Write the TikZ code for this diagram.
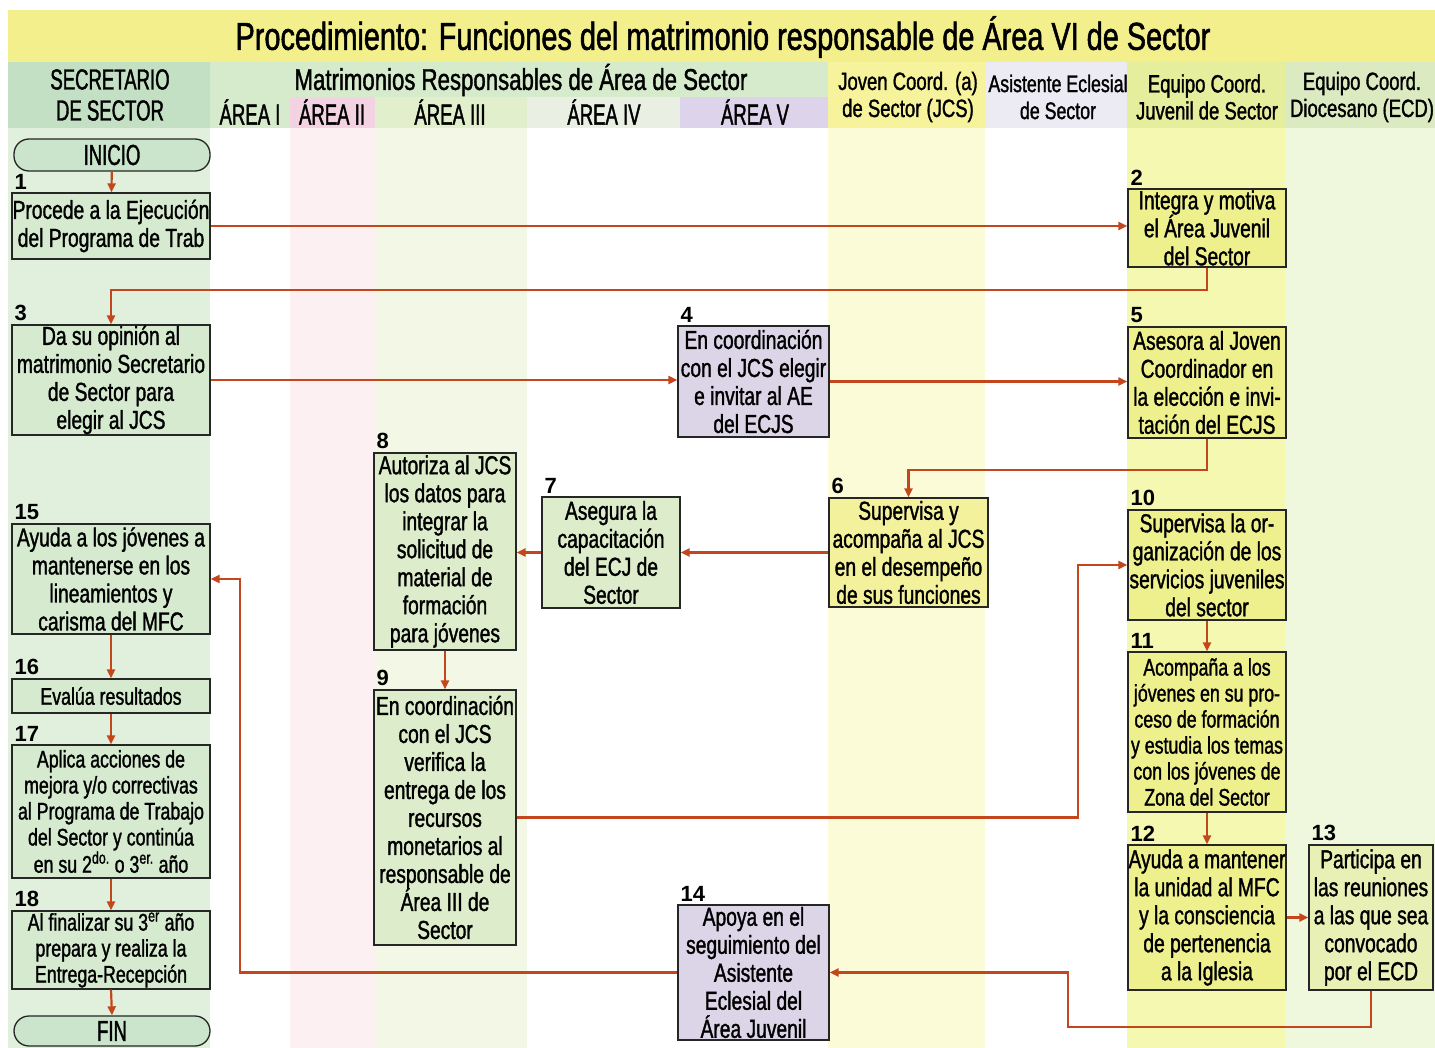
\documentclass[tikz,border=0pt]{standalone}
\usepackage{fontspec}
\setmainfont{Liberation Sans}
\newfontfamily\cond{Liberation Sans}[FakeStretch=0.74,FakeBold=1.3]
\newfontfamily\xcond{Liberation Sans}[FakeStretch=0.64,FakeBold=1.3]
\newfontfamily\numfam{Liberation Sans Bold}
\usetikzlibrary{arrows.meta}
\definecolor{ln}{HTML}{C4461C}
\definecolor{titlebg}{HTML}{F2EF8C}
\definecolor{hsec}{HTML}{C3E0C4}
\definecolor{hmat}{HTML}{D6EBCB}
\definecolor{hpink}{HTML}{F3D3E1}
\definecolor{hg3}{HTML}{E2EFCC}
\definecolor{hg4}{HTML}{E9EFE2}
\definecolor{hlav}{HTML}{DDD3EA}
\definecolor{hjcs}{HTML}{F6F39C}
\definecolor{hae}{HTML}{ECEBF4}
\definecolor{hecj}{HTML}{E5EE9C}
\definecolor{hecd}{HTML}{DCEAC2}
\definecolor{csec}{HTML}{E0F0DC}
\definecolor{cpink}{HTML}{FCF0F3}
\definecolor{cg3}{HTML}{F2F8E5}
\definecolor{cjcs}{HTML}{FBFBD8}
\definecolor{cecj}{HTML}{F4F8B0}
\definecolor{cecd}{HTML}{EFF7DC}
\definecolor{bgreen}{HTML}{D5EACF}
\definecolor{bgreen2}{HTML}{DDEDCB}
\definecolor{byel}{HTML}{EEF08E}
\definecolor{byel2}{HTML}{F4F19C}
\definecolor{blav}{HTML}{DCD5E8}
\definecolor{byg}{HTML}{E8F0B6}
\definecolor{termc}{HTML}{CAE5CC}
\newcommand\bodyf{\cond\fontsize{26}{28}\selectfont}
\newcommand\smallbf{\cond\fontsize{24}{26}\selectfont}
\newcommand\hdrf{\xcond\fontsize{29}{31}\selectfont}
\newcommand\subhf{\cond\fontsize{25}{27}\selectfont}
\newcommand\numf{\numfam\fontsize{22}{24}\selectfont}
\tikzset{
  box/.style={draw=black!85, line width=1.3pt, inner sep=0pt, align=center, font=\bodyf},
  num/.style={font=\numf, anchor=south west, inner sep=0pt},
  arr/.style={draw=ln, line width=2.2pt, -{Triangle[length=9pt,width=8pt]}},
  term/.style={draw=black!85, line width=1.3pt, rounded corners=15pt, fill=termc, inner sep=0pt, font=\hdrf},
  hdr/.style={inner sep=0pt, align=center, font=\hdrf},
  subh/.style={inner sep=0pt, align=center, font=\subhf},
}
\begin{document}
\begin{tikzpicture}[x=1pt,y=-1pt]
\useasboundingbox (0,0) rectangle (1435,1048);
\fill[white] (0,0) rectangle (1435,1048);
% title band
\fill[titlebg] (8,10) rectangle (1435,62);
\node[inner sep=0pt, font={\cond\fontsize{39}{41}\selectfont}] (title) at (723,37) {Procedimiento: Funciones del matrimonio responsable de Área VI de Sector};
% header band
\fill[hsec] (8,62) rectangle (210,128);
\fill[hmat] (210,62) rectangle (828,97);
\fill[hmat] (210,97) rectangle (290,128);
\fill[hpink] (290,97) rectangle (375,128);
\fill[hg3] (375,97) rectangle (527,128);
\fill[hg4] (527,97) rectangle (680,128);
\fill[hlav] (680,97) rectangle (828,128);
\fill[hjcs] (828,62) rectangle (985,128);
\fill[hae] (985,62) rectangle (1127,128);
\fill[hecj] (1127,62) rectangle (1285,128);
\fill[hecd] (1285,62) rectangle (1435,128);
% body columns
\fill[csec] (8,128) rectangle (210,1048);
\fill[cpink] (290,128) rectangle (375,1048);
\fill[cg3] (375,128) rectangle (527,1048);
\fill[cjcs] (828,128) rectangle (985,1048);
\fill[cecj] (1127,128) rectangle (1285,1048);
\fill[cecd] (1285,128) rectangle (1435,1048);
% header texts
\node[hdr] (h1) at (110,95) {SECRETARIO\\DE SECTOR};
\node[hdr, font={\cond\fontsize{30}{32}\selectfont}] (h2) at (521,80) {Matrimonios Responsables de Área de Sector};
\node[hdr] (a1) at (250,112) {ÁREA I};
\node[hdr] (a2) at (332,112) {ÁREA II};
\node[hdr] (a3) at (450,112) {ÁREA III};
\node[hdr] (a4) at (604,112) {ÁREA IV};
\node[hdr] (a5) at (755,112) {ÁREA V};
\node[subh] (h3) at (908,97) {Joven Coord. (a)\\de Sector (JCS)};
\node[subh, font={\cond\fontsize{24}{27}\selectfont}] (h4) at (1058,97) {Asistente Eclesial\\de Sector};
\node[subh] (h5) at (1207,97) {Equipo Coord.\\Juvenil de Sector};
\node[subh] (h6) at (1362,97) {Equipo Coord.\\Diocesano (ECD)};
% terminals
\node[term, minimum width=196, minimum height=32] (ini) at (112,155) {INICIO};
\node[term, minimum width=196, minimum height=30] (fin) at (112,1031) {FIN};
% boxes
\node[box, fill=bgreen, minimum width=198, minimum height=66] (n1) at (111,226) {Procede a la Ejecución\\del Programa de Trab};
\node[box, fill=byel, minimum width=158, minimum height=78] (n2) at (1207,228) {Integra y motiva\\el Área Juvenil\\del Sector};
\node[box, fill=bgreen, minimum width=198, minimum height=110] (n3) at (111,380) {Da su opinión al\\matrimonio Secretario\\de Sector para\\elegir al JCS};
\node[box, fill=blav, minimum width=151, minimum height=111] (n4) at (753.5,381.5) {En coordinación\\con el JCS elegir\\e invitar al AE\\del ECJS};
\node[box, fill=byel, minimum width=158, minimum height=111] (n5) at (1207,382.5) {Asesora al Joven\\Coordinador en\\la elección e invi-\\tación del ECJS};
\node[box, fill=byel2, minimum width=159, minimum height=109] (n6) at (908.5,552.5) {Supervisa y\\acompaña al JCS\\en el desempeño\\de sus funciones};
\node[box, fill=bgreen2, minimum width=138, minimum height=111] (n7) at (611,552.5) {Asegura la\\capacitación\\del ECJ de\\Sector};
\node[box, fill=bgreen2, minimum width=142, minimum height=197] (n8) at (445,551.5) {Autoriza al JCS\\los datos para\\integrar la\\solicitud de\\material de\\formación\\para jóvenes};
\node[box, fill=bgreen2, minimum width=142, minimum height=255] (n9) at (445,817.5) {En coordinación\\con el JCS\\verifica la\\entrega de los\\recursos\\monetarios al\\responsable de\\Área III de\\Sector};
\node[box, fill=byel, minimum width=158, minimum height=110] (n10) at (1207,565) {Supervisa la or-\\ganización de los\\servicios juveniles\\del sector};
\node[box, fill=byel, minimum width=158, minimum height=160, font=\smallbf] (n11) at (1207,732) {Acompaña a los\\jóvenes en su pro-\\ceso de formación\\y estudia los temas\\con los jóvenes de\\Zona del Sector};
\node[box, fill=byel, minimum width=158, minimum height=145] (n12) at (1207,917.5) {Ayuda a mantener\\la unidad al MFC\\y la consciencia\\de pertenencia\\a la Iglesia};
\node[box, fill=byg, minimum width=124, minimum height=145] (n13) at (1371,917.5) {Participa en\\las reuniones\\a las que sea\\convocado\\por el ECD};
\node[box, fill=blav, minimum width=151, minimum height=135] (n14) at (753.5,972.5) {Apoya en el\\seguimiento del\\Asistente\\Eclesial del\\Área Juvenil};
\node[box, fill=bgreen, minimum width=198, minimum height=110] (n15) at (111,579) {Ayuda a los jóvenes a\\mantenerse en los\\lineamientos y\\carisma del MFC};
\node[box, fill=bgreen, minimum width=198, minimum height=34, font=\smallbf] (n16) at (111,696) {Evalúa resultados};
\node[box, fill=bgreen, minimum width=198, minimum height=133, font=\smallbf] (n17) at (111,811.5) {Aplica acciones de\\mejora y/o correctivas\\al Programa de Trabajo\\del Sector y continúa\\en su 2\textsuperscript{do.} o 3\textsuperscript{er.} año};
\node[box, fill=bgreen, minimum width=198, minimum height=78, font=\smallbf] (n18) at (111,950) {Al finalizar su 3\textsuperscript{er} año\\prepara y realiza la\\Entrega-Recepción};
% numbers
\foreach \n/\t in {n1/1,n2/2,n3/3,n4/4,n5/5,n6/6,n7/7,n8/8,n9/9,n10/10,n11/11,n12/12,n13/13,n14/14,n15/15,n16/16,n17/17,n18/18}
  \node[num] (l\t) at ([xshift=3pt,yshift=3pt]\n.north west) {\t};
% junction coordinates
\coordinate (j23) at (600,290);
\coordinate (j56) at (1000,470);
\coordinate (j910) at (1078,0);
\coordinate (j1314) at (1068,1027);
\coordinate (j1415) at (240,0);
% connectors
\draw[arr] (ini) -- (n1);
\draw[arr] (n1.east) -- (n1.east -| n2.west);
\draw[arr] (n2.south) |- (j23) -| (n3.north);
\draw[arr] (n3.east) -- (n3.east -| n4.west);
\draw[arr] (n4.east) -- (n4.east -| n5.west);
\draw[arr] (n5.south) |- (j56) -| (n6.north);
\draw[arr] (n6.west) -- (n6.west -| n7.east);
\draw[arr] (n7.west) -- (n7.west -| n8.east);
\draw[arr] (n8.south) -- (n9.north);
\draw[arr] (n9.east) -| (j910 |- n10.west) -- (n10.west);
\draw[arr] (n10.south) -- (n11.north);
\draw[arr] (n11.south) -- (n12.north);
\draw[arr] (n12.east) -- (n12.east -| n13.west);
\draw[arr] (n13.south) |- (j1314) |- (n14.east);
\draw[arr] (n14.west) -| (j1415 |- n15.east) -- (n15.east);
\draw[arr] (n15.south) -- (n16.north);
\draw[arr] (n16.south) -- (n17.north);
\draw[arr] (n17.south) -- (n18.north);
\draw[arr] (n18.south) -- (fin.north);
\end{tikzpicture}
\end{document}
